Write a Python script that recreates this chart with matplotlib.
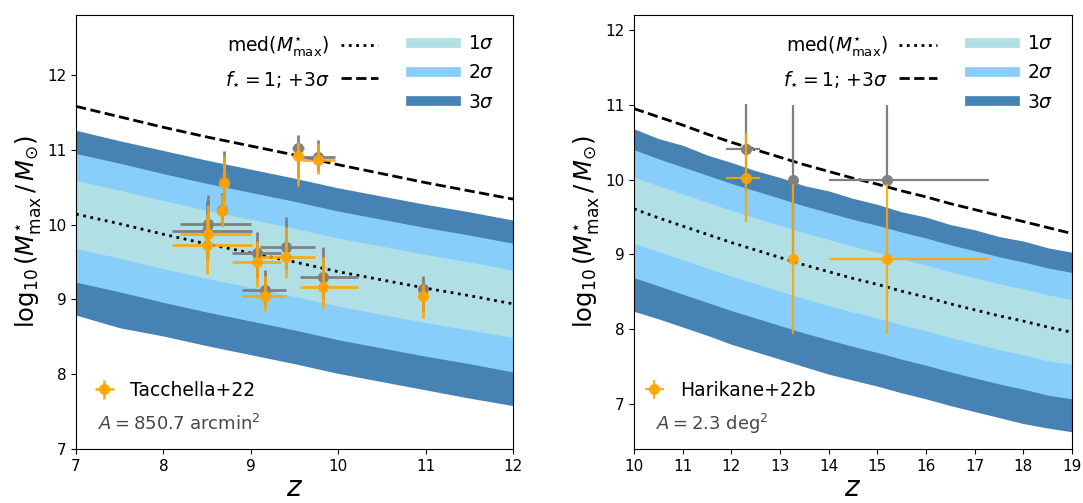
import numpy as np
import matplotlib.pyplot as plt
from matplotlib.lines import Line2D

# ---- left panel: Tacchella+22 ----
z_left = [7.0, 7.5, 8.0, 8.5, 9.0, 9.5, 10.0, 10.5, 11.0, 11.5, 12.0]
med_left = [10.14, 10.01, 9.87, 9.74, 9.62, 9.50, 9.37, 9.26, 9.15, 9.05, 8.94]
up3_left = [11.26, 11.12, 10.99, 10.86, 10.74, 10.62, 10.49, 10.38, 10.27, 10.17, 10.06]
up2_left = [10.95, 10.82, 10.68, 10.55, 10.43, 10.31, 10.18, 10.07, 9.96, 9.86, 9.75]
up1_left = [10.59, 10.46, 10.32, 10.19, 10.07, 9.95, 9.82, 9.71, 9.60, 9.50, 9.39]
lo1_left = [9.68, 9.55, 9.41, 9.28, 9.16, 9.04, 8.91, 8.80, 8.69, 8.59, 8.49]
lo2_left = [9.23, 9.10, 8.96, 8.83, 8.71, 8.59, 8.46, 8.35, 8.24, 8.14, 8.03]
lo3_left = [8.79, 8.62, 8.51, 8.38, 8.26, 8.14, 8.01, 7.90, 7.79, 7.68, 7.58]
fmax_left = [11.58, 11.44, 11.30, 11.17, 11.05, 10.93, 10.80, 10.68, 10.56, 10.45, 10.34]

z_tac = [8.51, 8.50, 8.69, 8.67, 9.07, 9.40, 9.16, 9.83, 9.54, 9.77, 10.97]
m_tac = [9.87, 9.73, 10.55, 10.18, 9.50, 9.57, 9.04, 9.17, 10.92, 10.86, 9.04]
m_tac_gray = [10.01, 9.91, 10.62, 10.20, 9.62, 9.70, 9.12, 9.30, 11.02, 10.90, 9.14]
zlo_tac = [0.32, 0.40, 0.03, 0.03, 0.29, 0.30, 0.26, 0.27, 0.07, 0.18, 0.06]
zhi_tac = [0.49, 0.51, 0.03, 0.03, 0.28, 0.33, 0.24, 0.40, 0.07, 0.19, 0.06]
mlo_tac = [0.35, 0.39, 0.31, 0.21, 0.33, 0.29, 0.20, 0.29, 0.40, 0.19, 0.29]
mhi_tac = [0.39, 0.40, 0.36, 0.22, 0.28, 0.40, 0.27, 0.40, 0.18, 0.23, 0.17]
mlo_tac_gray = mlo_tac

# ---- right panel: Harikane+22b ----
z_right = [10.0, 10.5, 11.0, 11.5, 12.0, 12.5, 13.0, 13.5, 14.0, 14.5,
           15.0, 15.5, 16.0, 16.5, 17.0, 17.5, 18.0, 18.5, 19.0]
med_right = [9.61, 9.49, 9.38, 9.27, 9.16, 9.06, 8.96, 8.86, 8.77, 8.68,
             8.60, 8.51, 8.43, 8.34, 8.26, 8.18, 8.11, 8.03, 7.96]
up3_right = [10.68, 10.55, 10.46, 10.33, 10.23, 10.12, 10.03, 9.92, 9.85, 9.75,
             9.67, 9.57, 9.50, 9.40, 9.33, 9.24, 9.18, 9.09, 9.03]
up2_right = [10.40, 10.28, 10.17, 10.06, 9.95, 9.85, 9.75, 9.65, 9.56, 9.47,
             9.39, 9.30, 9.22, 9.13, 9.05, 8.97, 8.90, 8.82, 8.76]
up1_right = [10.03, 9.92, 9.81, 9.70, 9.59, 9.49, 9.39, 9.29, 9.20, 9.11,
             9.03, 8.94, 8.86, 8.77, 8.69, 8.61, 8.54, 8.46, 8.40]
lo1_right = [9.15, 9.04, 8.93, 8.82, 8.71, 8.61, 8.51, 8.41, 8.32, 8.23,
             8.15, 8.06, 7.98, 7.89, 7.81, 7.73, 7.66, 7.58, 7.53]
lo2_right = [8.69, 8.58, 8.47, 8.36, 8.25, 8.15, 8.05, 7.95, 7.86, 7.77,
             7.69, 7.60, 7.52, 7.43, 7.35, 7.27, 7.20, 7.12, 7.07]
lo3_right = [8.24, 8.14, 8.03, 7.92, 7.80, 7.70, 7.60, 7.50, 7.40, 7.32,
             7.24, 7.15, 7.07, 6.98, 6.90, 6.82, 6.74, 6.68, 6.63]
fmax_right = [10.95, 10.84, 10.73, 10.61, 10.50, 10.40, 10.30, 10.20, 10.11, 10.02,
              9.94, 9.85, 9.77, 9.68, 9.60, 9.52, 9.44, 9.36, 9.28]

z_har = [12.30, 13.27, 15.19]
m_har = [10.02, 8.94, 8.94]
m_har_gray = [10.41, 10.00, 10.00]
zlo_har = [0.40, 0.0, 1.19]
zhi_har = [0.29, 0.0, 2.10]
mlo_har = [0.59, 1.00, 1.00]
mhi_har = [0.60, 1.00, 1.00]
mlo_har_gray = [0.59, 1.00, 0.0]

C1, C2, C3 = 'powderblue', 'lightskyblue', 'steelblue'


def panel(ax, z, med, up1, up2, up3, lo1, lo2, lo3, fmax,
          zd, md, mgray, zlo, zhi, mlo, mhi, mlo_gray, label, area, elw, legx):
    ax.fill_between(z, lo3, up3, color=C3, lw=0)
    ax.fill_between(z, lo2, up2, color=C2, lw=0)
    ax.fill_between(z, lo1, up1, color=C1, lw=0)
    ax.plot(z, med, ':', color='k', lw=2)
    ax.plot(z, fmax, '--', color='k', lw=2)

    ax.errorbar(zd, mgray, xerr=[zlo, zhi], yerr=[mlo_gray, mhi], fmt='o',
                color='gray', ms=7, elinewidth=elw, capsize=0, zorder=3)
    eb = ax.errorbar(zd, md, xerr=[zlo, zhi], yerr=[mlo, mhi], fmt='o',
                     color='orange', ms=7, elinewidth=elw, capsize=0, zorder=4,
                     alpha=0.88)

    h_lines = [Line2D([], [], ls=':', color='k', lw=2),
               Line2D([], [], ls='--', color='k', lw=2)]
    leg1 = ax.legend(h_lines, [r'med($M^{\star}_{\rm max}$)', r'$f_{\star} = 1$; $+3\sigma$'],
                     loc='upper right', bbox_to_anchor=(0.73, 0.995), frameon=False,
                     markerfirst=False, fontsize=13.5, handlelength=2.0,
                     labelspacing=0.55, handletextpad=0.6)
    ax.add_artist(leg1)
    h_bands = [Line2D([], [], color=c, lw=7) for c in (C1, C2, C3)]
    leg2 = ax.legend(h_bands, [r'$1\sigma$', r'$2\sigma$', r'$3\sigma$'],
                     loc='upper right', bbox_to_anchor=(0.995, 0.995), frameon=False,
                     fontsize=13.5, handlelength=2.4, labelspacing=0.55,
                     handletextpad=0.6)
    ax.add_artist(leg2)
    ax.legend([eb], [label], loc='center left', bbox_to_anchor=(legx, 0.135),
              frameon=False, fontsize=13.5, handlelength=1.2)
    ax.text(0.05, 0.058, area, transform=ax.transAxes, fontsize=13,
            color='0.28', va='center', ha='left')

    ax.set_xlabel(r'$z$', fontsize=20, labelpad=0)
    ax.set_ylabel(r'$\log_{10}(M^{\star}_{\rm max}\,/\,M_{\odot})$', fontsize=17.5,
                  labelpad=3)
    ax.tick_params(labelsize=11)


fig = plt.figure(figsize=(10.83, 5.03), dpi=100)
ax1 = fig.add_axes([0.0702, 0.1074, 0.4035, 0.8626])
ax2 = fig.add_axes([0.5854, 0.1074, 0.4044, 0.8626])

panel(ax1, z_left, med_left, up1_left, up2_left, up3_left, lo1_left, lo2_left,
      lo3_left, fmax_left, z_tac, m_tac, m_tac_gray, zlo_tac, zhi_tac, mlo_tac,
      mhi_tac, mlo_tac_gray, 'Tacchella+22', r'$A = 850.7$ arcmin$^2$', 2.0, 0.0)
ax1.set_xlim(7, 12)
ax1.set_ylim(7, 12.8)
ax1.set_xticks(range(7, 13))
ax1.set_yticks(range(7, 13))

panel(ax2, z_right, med_right, up1_right, up2_right, up3_right, lo1_right,
      lo2_right, lo3_right, fmax_right, z_har, m_har, m_har_gray, zlo_har,
      zhi_har, mlo_har, mhi_har, mlo_har_gray, 'Harikane+22b',
      r'$A = 2.3$ deg$^2$', 1.6, -0.018)
ax2.set_xlim(10, 19)
ax2.set_ylim(6.4, 12.2)
ax2.set_xticks(range(10, 20))
ax2.set_yticks(range(7, 13))

fig.savefig('out.png', dpi=100)
